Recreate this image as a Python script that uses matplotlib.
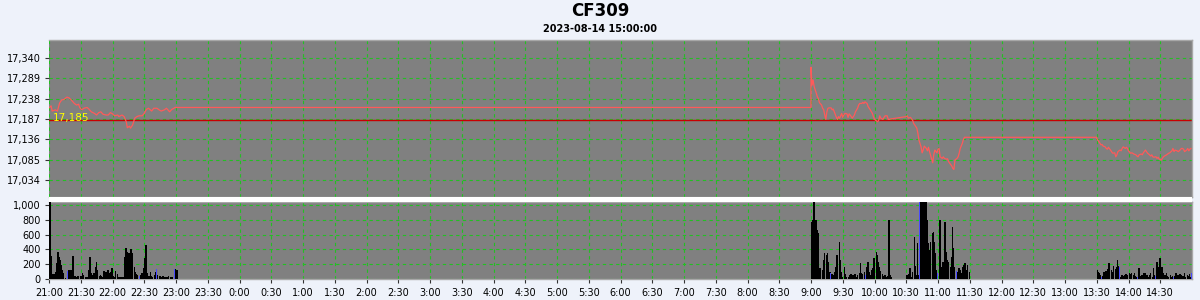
import matplotlib
matplotlib.use("Agg")
import matplotlib.pyplot as plt
import matplotlib.ticker as mticker
from matplotlib.patches import Rectangle

# ---------------- data ----------------
title = "CF309"
subtitle = "2023-08-14 15:00:00"
ref_price = 17185
axis_start = "21:00"
axis_hours = 18
price_ticks = [17034, 17085, 17136, 17187, 17238, 17289, 17340]
volume_ticks = [0, 200, 400, 600, 800, 1000]

session_starts = ["21:00", "09:00", "13:30"]

# price: minutes after session start, price
night_t = [0, 2, 3, 6, 8, 10, 12, 14, 17, 19, 21, 24, 26, 28, 29, 31, 33, 36, 38, 40, 43, 45, 47, 49, 51,
           54, 56, 58, 60, 62, 65, 66, 69, 71, 73, 74, 76, 77, 79, 81, 83, 85, 88, 90, 92, 94, 97, 99,
           102, 104, 106, 109, 111, 114, 116, 118, 119]
night_p = [17215, 17220, 17207, 17210, 17207, 17227, 17235, 17236, 17242, 17240, 17235, 17226, 17222,
           17224, 17216, 17210, 17214, 17216, 17211, 17205, 17201, 17197, 17203, 17205, 17199, 17197,
           17197, 17203, 17200, 17195, 17197, 17193, 17197, 17193, 17180, 17165, 17169, 17164, 17172,
           17189, 17193, 17195, 17195, 17201, 17211, 17214, 17207, 17214, 17214, 17210, 17207, 17210,
           17214, 17205, 17211, 17214, 17216]

am_t = [0, 1, 2, 3, 4, 5, 6, 7, 8, 9, 10, 11, 12, 13, 14, 15, 16, 17, 18, 19, 20, 21, 22, 24, 25, 26,
        27, 29, 30, 31, 32, 34, 35, 36, 37, 39, 40, 41, 42, 44, 45, 46, 48, 49, 50, 51, 53, 54, 55, 56,
        58, 59, 60, 61, 63, 64, 65, 66, 68, 69, 70, 72, 73, 74, 75,
        90, 91, 92, 94, 96, 97, 99, 100, 101, 102, 104, 105, 106, 107, 109, 110, 111, 112, 114, 115,
        116, 117, 119, 120, 121, 122, 124, 125, 126, 128, 129, 130, 131, 133, 134, 135, 136, 138, 139,
        140, 141, 143, 144, 145, 149]
am_p = [17317, 17272, 17285, 17268, 17260, 17252, 17243, 17238, 17228, 17225, 17222, 17214, 17210,
        17197, 17186, 17205, 17214, 17215, 17215, 17215, 17210, 17212, 17205, 17191, 17186, 17193,
        17189, 17201, 17191, 17197, 17201, 17200, 17191, 17200, 17197, 17189, 17193, 17197, 17205,
        17214, 17222, 17226, 17226, 17229, 17226, 17230, 17226, 17218, 17214, 17210, 17201, 17193,
        17186, 17184, 17180, 17184, 17195, 17189, 17186, 17191, 17195, 17195, 17186, 17186, 17187,
        17193, 17195, 17189, 17191, 17184, 17176, 17168, 17164, 17151, 17134, 17117, 17102, 17109,
        17119, 17113, 17107, 17116, 17105, 17086, 17077, 17097, 17109, 17102, 17111, 17113, 17092,
        17088, 17092, 17088, 17086, 17087, 17080, 17076, 17069, 17063, 17060, 17084, 17088, 17092,
        17101, 17113, 17126, 17136, 17141, 17141]

pm_t = [0, 1, 3, 4, 5, 6, 8, 9, 10, 11, 13, 14, 15, 17, 18, 19, 20, 22, 23, 24, 25, 27, 28, 29, 30,
        32, 33, 34, 35, 37, 38, 39, 40, 42, 43, 44, 46, 47, 48, 49, 51, 52, 53, 54, 56, 57, 58, 59, 61,
        62, 63, 64, 66, 67, 68, 69, 71, 72, 73, 74, 76, 77, 78, 80, 81, 82, 83, 85, 86, 87, 88, 89]
pm_p = [17138, 17134, 17126, 17122, 17123, 17119, 17117, 17113, 17111, 17116, 17109, 17105, 17101,
        17102, 17092, 17097, 17105, 17109, 17107, 17113, 17117, 17113, 17116, 17113, 17107, 17101,
        17102, 17101, 17099, 17097, 17094, 17092, 17097, 17099, 17097, 17102, 17109, 17105, 17101,
        17099, 17094, 17097, 17092, 17091, 17092, 17088, 17091, 17086, 17084, 17088, 17092, 17094,
        17097, 17099, 17101, 17102, 17107, 17113, 17105, 17109, 17107, 17105, 17107, 17113, 17113,
        17111, 17105, 17109, 17113, 17107, 17111, 17113]

# volume: minutes after session start, volume; blue = flagged bars
night_vt = [0, 1, 2, 3, 5, 6, 7, 8, 9, 10, 11, 12, 13, 15, 17, 18, 19, 20, 22, 24, 25, 26, 27, 29, 30,
            31, 32, 34, 35, 36, 37, 38, 39, 41, 42, 43, 44, 45, 47, 48, 49, 50, 51, 53, 54, 55, 56, 58,
            59, 60, 61, 62, 64, 65, 66, 67, 68, 70, 71, 72, 73, 75, 76, 77, 78, 80, 81, 82, 83, 85, 86,
            87, 89, 90, 91, 92, 94, 95, 96, 97, 99, 100, 101, 102, 104, 105, 106, 107, 109, 110, 111,
            112, 114, 115, 116, 118, 119, 120]
night_v = [1050, 313, 72, 72, 72, 103, 224, 371, 304, 259, 192, 125, 89, 13, 112, 125, 125, 125, 313,
           45, 36, 45, 45, 45, 45, 80, 58, 27, 27, 27, 125, 295, 89, 58, 80, 170, 237, 125, 45, 58, 45,
           27, 116, 103, 103, 125, 80, 103, 148, 45, 27, 116, 72, 27, 27, 27, 27, 27, 295, 416, 371,
           358, 170, 402, 358, 161, 103, 72, 58, 45, 58, 89, 148, 282, 460, 89, 45, 103, 45, 27, 58,
           103, 134, 58, 45, 36, 27, 45, 36, 27, 27, 45, 27, 36, 27, 134, 134, 125]
night_blue = [17, 85, 101, 118]

am_vt = [-5, -3, -1, 0, 1, 2, 3, 4, 5, 6, 7, 8, 10, 11, 12, 14, 15, 16, 17, 18, 19, 20, 22, 23, 24, 26,
         27, 28, 29, 31, 32, 33, 35, 36, 37, 38, 39, 41, 42, 43, 45, 46, 47, 48, 50, 51, 52, 53, 54, 56,
         57, 58, 59, 61, 62, 63, 64, 65, 67, 68, 69, 70, 72, 73, 74, 75,
         90, 92, 93, 94, 95, 97, 98, 99, 100, 101, 102, 103, 104, 105, 106, 107, 108, 109, 110, 111,
         112, 114, 115, 116, 117, 118, 119, 121, 122, 123, 124, 126, 127, 128, 129, 131, 132, 133,
         134, 135, 137, 138, 139, 140, 141, 143, 144, 145, 146, 147, 149]
am_v = [10, 10, 10, 773, 790, 1050, 795, 790, 660, 615, 103, 148, 125, 259, 358, 326, 349, 237, 103,
        89, 72, 58, 103, 170, 326, 505, 259, 103, 36, 170, 72, 36, 27, 58, 72, 58, 58, 72, 27, 58, 89,
        224, 89, 72, 103, 58, 170, 237, 103, 58, 125, 148, 282, 371, 326, 237, 170, 116, 72, 45, 58,
        36, 45, 796, 58, 36,
        58, 72, 148, 36, 103, 572, 179, 58, 483, 58, 1050, 1050, 1050, 1050, 1050, 1050, 1050, 796,
        483, 393, 505, 617, 640, 505, 349, 125, 89, 796, 170, 89, 237, 773, 371, 259, 237, 170, 304,
        706, 416, 170, 116, 103, 148, 125, 89, 170, 192, 215, 125, 192, 103]
am_blue = [18, 51, 102, 119, 137]

pm_vt = [0, 1, 2, 3, 4, 5, 6, 8, 9, 10, 11, 13, 14, 15, 17, 18, 19, 20, 21, 22, 23, 25, 26, 27, 28, 30,
         31, 32, 34, 35, 36, 37, 38, 39, 40, 42, 43, 44, 45, 47, 48, 49, 50, 52, 53, 54, 55, 56, 57, 59,
         60, 61, 62, 64, 65, 66, 67, 69, 70, 71, 72, 73, 74, 76, 77, 78, 79, 81, 82, 83, 85, 86, 87, 88,
         89]
pm_v = [125, 103, 80, 58, 36, 45, 103, 116, 80, 134, 215, 125, 103, 179, 134, 170, 259, 179, 170, 36,
        58, 45, 58, 72, 58, 80, 72, 89, 58, 80, 45, 36, 27, 148, 45, 58, 36, 80, 89, 58, 36, 58, 80, 36,
        148, 58, 45, 237, 170, 282, 125, 170, 80, 58, 80, 45, 36, 58, 36, 45, 27, 45, 80, 58, 36, 72,
        54, 45, 80, 36, 58, 45, 72, 36, 80]
pm_blue = [4, 21, 38, 55, 72, 89]

# ---------------- helpers ----------------
def offset(hhmm):
    h, m = map(int, hhmm.split(":"))
    h0, m0 = map(int, axis_start.split(":"))
    return ((h * 60 + m) - (h0 * 60 + m0)) % 1440

starts = [offset(s) for s in session_starts]
price_sessions = [(night_t, night_p), (am_t, am_p), (pm_t, pm_p)]
vol_sessions = [(night_vt, night_v, night_blue), (am_vt, am_v, am_blue), (pm_vt, pm_v, pm_blue)]

px, py = [], []
for s0, (tt, pp) in zip(starts, price_sessions):
    if py:  # hold last price until next session opens
        px.append(s0 + tt[0])
        py.append(py[-1])
    px += [s0 + t for t in tt]
    py += pp

# ---------------- style ----------------
BG = "#EEF2FA"
AX_BG = "#808080"
GRID = "#22C022"
plt.rcParams["font.family"] = ["DejaVu Sans"]

fig = plt.figure(figsize=(12, 3), dpi=100, facecolor=BG)
ax1 = fig.add_axes([49 / 1200, 1 - 197 / 300, 1143 / 1200, 157 / 300])
ax2 = fig.add_axes([49 / 1200, 1 - 279.3 / 300, 1143 / 1200, 77.3 / 300])
fig.patches.append(Rectangle((49 / 1200, 1 - 202 / 300), 1143 / 1200, 5 / 300,
                             transform=fig.transFigure, facecolor="white", edgecolor="none", zorder=0))

xmax = axis_hours * 60
xt = list(range(0, xmax, 30))

def fmt_time(v, pos=None):
    h0, m0 = map(int, axis_start.split(":"))
    tot = (h0 * 60 + m0 + int(round(v))) % 1440
    return f"{tot // 60}:{tot % 60:02d}"

for ax in (ax1, ax2):
    ax.set_facecolor(AX_BG)
    ax.set_xlim(0, xmax)
    ax.set_xticks(xt)
    ax.set_axisbelow(True)
    ax.grid(True, color=GRID, linestyle=(0, (3, 3)), linewidth=0.8)
    for side, sp in ax.spines.items():
        sp.set_color("#A8A8A8")
        sp.set_linewidth(1.0)
    ax.spines["left"].set_visible(False)
    ax.tick_params(axis="both", labelsize=7, length=3, width=0.8, color="#333333", pad=3)
    ax.yaxis.set_major_formatter(mticker.FuncFormatter(lambda v, p: f"{int(round(v)):,}"))

ax1.tick_params(axis="x", labelbottom=False, length=0)
ax1.set_ylim(16991, 17385.5)
ax1.set_yticks(price_ticks)
ax1.plot(px, py, color="#FF5A5A", linewidth=0.9, zorder=3)
ax1.axhline(ref_price, color="#C80000", linewidth=1.0, zorder=2)
ax1.annotate(f"{ref_price:,}", xy=(0, ref_price), xycoords=ax1.get_yaxis_transform(),
             xytext=(2.5, 1.2), textcoords="offset points", color="#FFFF00",
             fontsize=7.5, va="center", ha="left", zorder=4)

ax2.set_ylim(0, 1037)
ax2.set_yticks(volume_ticks)
ax2.xaxis.set_major_formatter(mticker.FuncFormatter(fmt_time))
for s0, (tt, vv, blue) in zip(starts, vol_sessions):
    xs = [s0 + t for t in tt]
    cols = ["#4A4AFF" if t in blue else "black" for t in tt]
    ws = [0.8 if t in blue else 1.45 for t in tt]
    ax2.bar(xs, vv, width=ws, align="edge", color=cols, linewidth=0, zorder=3)

fig.text(0.5, 1 - 11 / 300, title, ha="center", va="center", fontsize=12, fontweight="bold")
fig.text(0.5, 1 - 29 / 300, subtitle, ha="center", va="center", fontsize=7, fontweight="bold")

fig.savefig("out.png", dpi=100, facecolor=BG)
